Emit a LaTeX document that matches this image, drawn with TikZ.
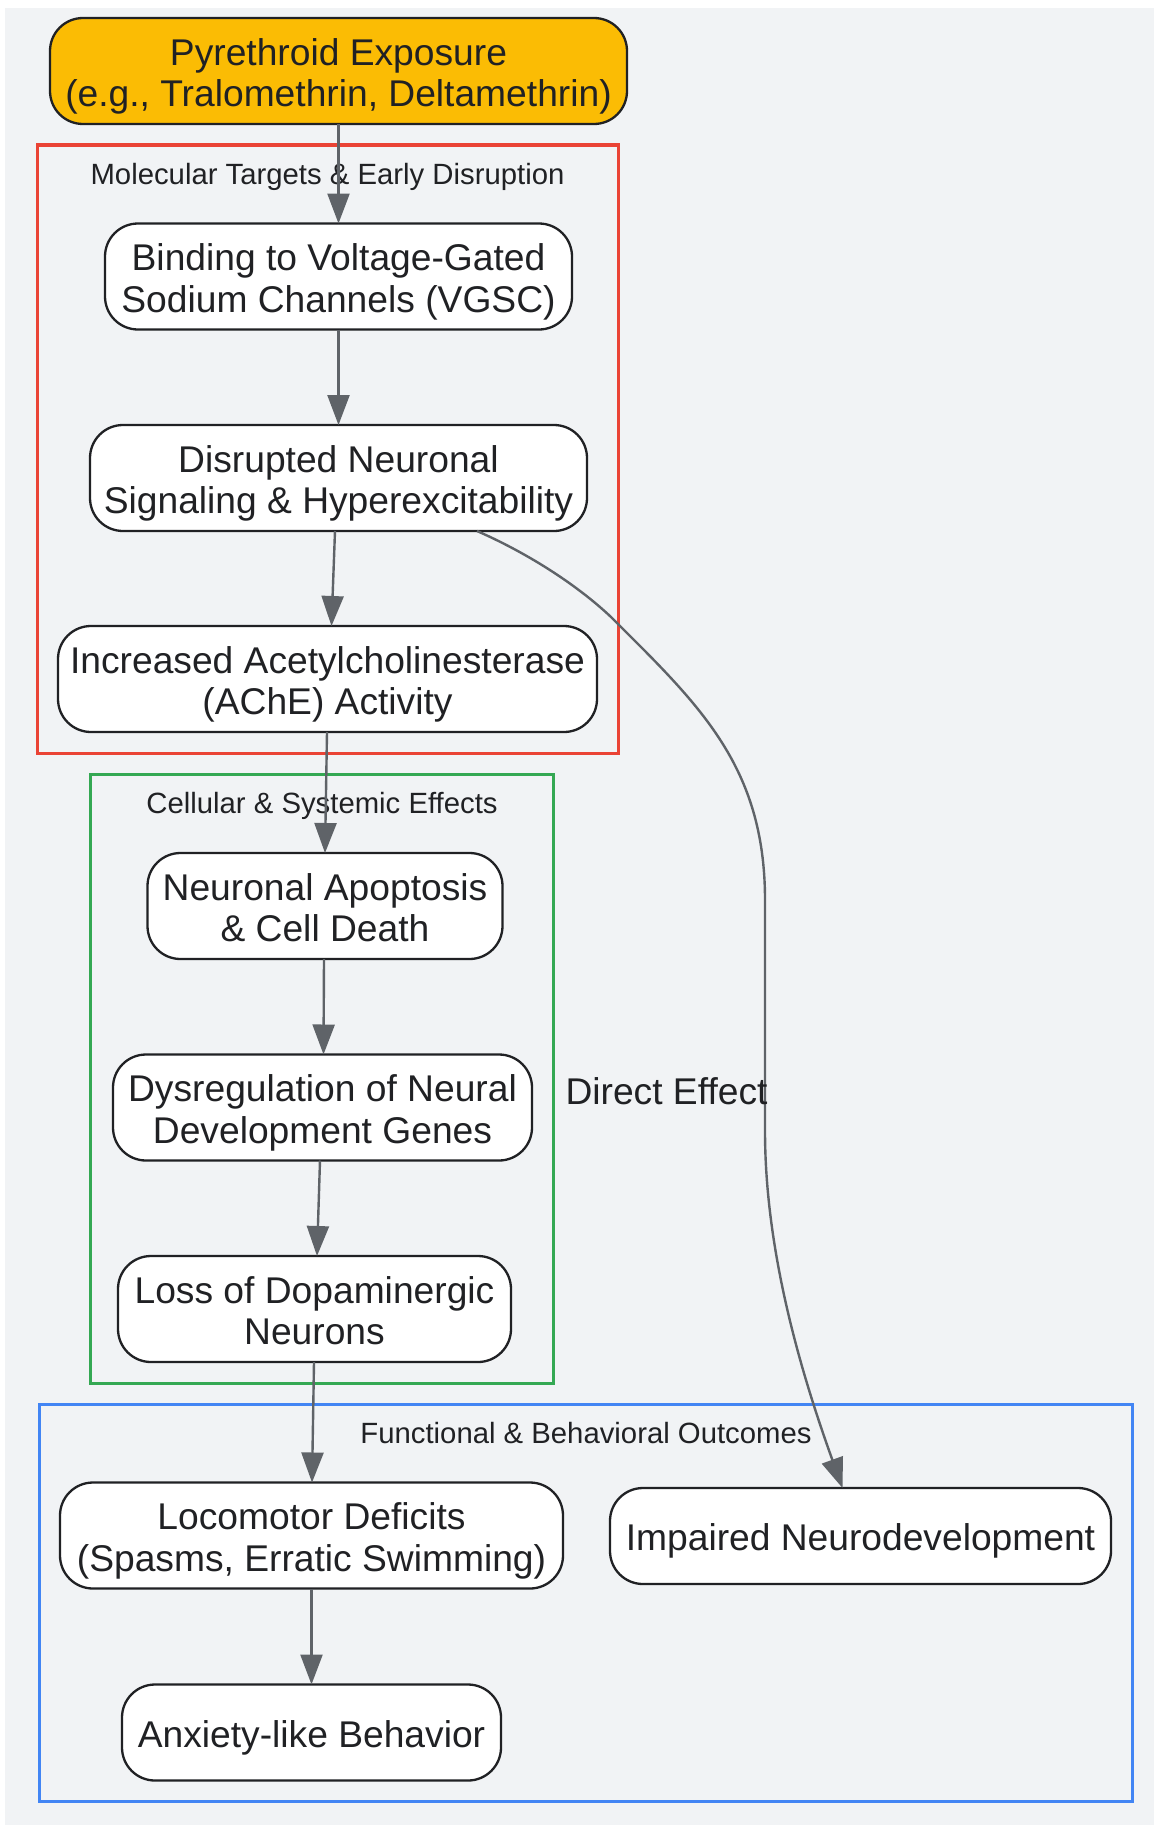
\documentclass[tikz,border=0pt]{standalone}
\usepackage{fontspec}
\setmainfont{Liberation Sans}
\usetikzlibrary{arrows.meta}
\definecolor{pagebg}{HTML}{F1F3F5}
\definecolor{ink}{HTML}{202124}
\definecolor{edgecol}{HTML}{5F6368}
\definecolor{gold}{HTML}{FBBC04}
\definecolor{redc}{HTML}{EA4335}
\definecolor{greenc}{HTML}{34A853}
\definecolor{bluec}{HTML}{4285F4}
\tikzset{
  flow/.style n args={2}{draw=ink,line width=2.3pt,fill=white,text=ink,rounded corners=33pt,
    minimum width=#1,minimum height=#2,inner sep=0pt,outer sep=0pt,align=center,
    text height=71.2pt,text depth=0pt,
    font=\fontsize{37.2pt}{41.5pt}\selectfont},
  single/.style={text height=29pt,text depth=0pt},
  cluster/.style={line width=3pt,fill=none},
  clabel/.style={text=ink,inner sep=0pt,font=\fontsize{29.3pt}{34pt}\selectfont},
  edgelabel/.style={text=ink,inner sep=0pt,font=\fontsize{37.2pt}{41.5pt}\selectfont},
  link/.style={draw=edgecol,line width=2.4pt,-{Triangle[length=30pt,width=22pt]},shorten >=0pt}
}
\begin{document}
\begin{tikzpicture}[x=1pt,y=-1pt]
\useasboundingbox (0,0) rectangle (1154,1825);
\fill[white] (0,0) rectangle (1154,1825);
\fill[pagebg] (5,8) rectangle (1154,1825);
% clusters
\draw[cluster,draw=redc] (37,145) rectangle (618,753);
\draw[cluster,draw=greenc] (90.5,774) rectangle (553.5,1383);
\draw[cluster,draw=bluec] (39.5,1404) rectangle (1132.5,1801.5);
\node[clabel] (lm) at (327.5,176.5) {Molecular Targets \& Early Disruption};
\node[clabel] (lc) at (322,805.5) {Cellular \& Systemic Effects};
\node[clabel] (lf) at (586,1433) {Functional \& Behavioral Outcomes};
% nodes
\node[flow={577pt}{106pt},fill=gold] (P) at (338.5,71) {Pyrethroid Exposure\\(e.g., Tralomethrin, Deltamethrin)};
\node[flow={467pt}{106pt}] (B) at (338.5,276.5) {Binding to Voltage-Gated\\Sodium Channels (VGSC)};
\node[flow={497pt}{106pt}] (D) at (338.5,478) {Disrupted Neuronal\\Signaling \& Hyperexcitability};
\node[flow={539pt}{106pt}] (A) at (327.5,679) {Increased Acetylcholinesterase\\(AChE) Activity};
\node[flow={355pt}{106pt}] (N) at (325,906) {Neuronal Apoptosis\\\& Cell Death};
\node[flow={419pt}{106pt}] (G) at (322.5,1107.5) {Dysregulation of Neural\\Development Genes};
\node[flow={393pt}{106pt}] (L) at (314.5,1309) {Loss of Dopaminergic\\Neurons};
\node[flow={503pt}{106pt}] (M) at (311.5,1535.5) {Locomotor Deficits\\(Spasms, Erratic Swimming)};
\node[flow={501pt}{96pt},single] (I) at (860.5,1536) {Impaired Neurodevelopment};
\node[flow={379pt}{96pt},single] (X) at (311.5,1732.5) {Anxiety-like Behavior};
% edges
\draw[link] (P.south) -- (B.north);
\draw[link] (B.south) -- (D.north);
\draw[link] ([xshift=-3.5pt]D.south) -- ([xshift=4pt]A.north);
\draw[link] ([xshift=-0.5pt]A.south) -- ([xshift=0pt]N.north);
\draw[link] ([xshift=-1pt]N.south) -- ([xshift=1pt]G.north);
\draw[link] ([xshift=-2.5pt]G.south) -- ([xshift=2.5pt]L.north);
\draw[link] ([xshift=-0.5pt]L.south) -- ([xshift=0.5pt]M.north);
\draw[link] (M.south) -- (X.north);
\draw[link] ([xshift=138.5pt]D.south) .. controls (525,552) and (575,583) .. (611,617)
  .. controls (698,704) and (765,765) .. (765,900) -- (765,1131)
  .. controls (765,1250) and (800,1370) .. ([xshift=-18pt]I.north);
\node[edgelabel] (dl) at (666.5,1091.5) {Direct Effect};
\end{tikzpicture}
\end{document}
